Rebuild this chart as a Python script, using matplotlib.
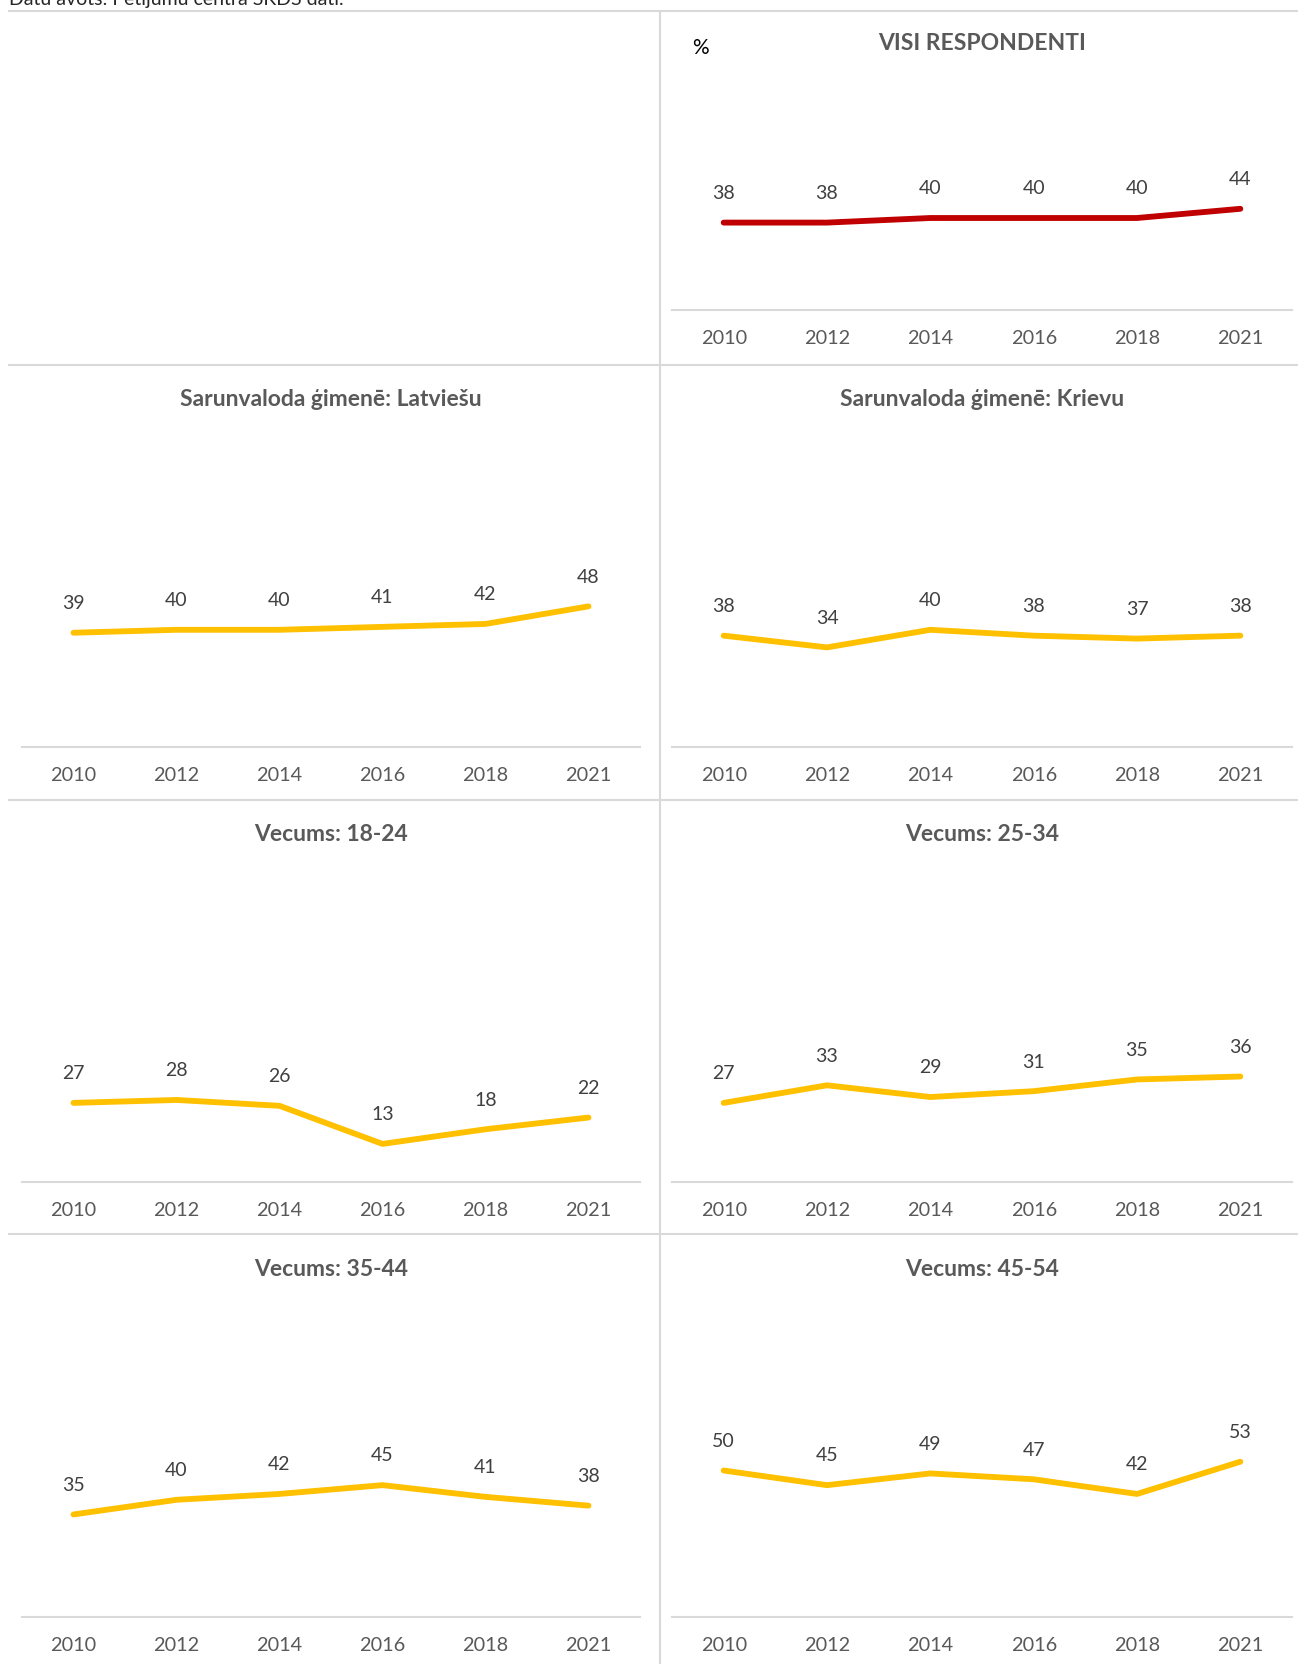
import matplotlib
matplotlib.use('Agg')
import matplotlib.pyplot as plt
from matplotlib.lines import Line2D

plt.rcParams['font.family'] = ['Lato', 'DejaVu Sans']

years = ['2010', '2012', '2014', '2016', '2018', '2021']

visi = [38, 38, 40, 40, 40, 44]
latviesu = [39, 40, 40, 41, 42, 48]
krievu = [38, 34, 40, 38, 37, 38]
v18_24 = [27, 28, 26, 13, 18, 22]
v25_34 = [27, 33, 29, 31, 35, 36]
v35_44 = [35, 40, 42, 45, 41, 38]
v45_54 = [50, 45, 49, 47, 42, 53]

titles = ['VISI RESPONDENTI',
          'Sarunvaloda ģimenē: Latviešu', 'Sarunvaloda ģimenē: Krievu',
          'Vecums: 18-24', 'Vecums: 25-34',
          'Vecums: 35-44', 'Vecums: 45-54']

W, H = 1298, 1664
fig = plt.figure(figsize=(W / 100, H / 100), dpi=100)

def fx(px):
    return px / W

def fy(py):
    return 1 - py / H

GRID = '#D9D9D9'
TITLE_C = '#595959'
LABEL_C = '#404040'
RED = '#C00000'
YEL = '#FFC000'

# columns (x0, x1) in pixels, rows: (baseline px, px per unit, title y)
cols = [(22, 640), (672, 1292)]
rows = [(310, 2.30, 44), (747, 2.93, 399), (1182, 2.93, 834), (1617, 2.93, 1269)]

panels = [
    (0, 1, visi, RED, titles[0]),
    (1, 0, latviesu, YEL, titles[1]),
    (1, 1, krievu, YEL, titles[2]),
    (2, 0, v18_24, YEL, titles[3]),
    (2, 1, v25_34, YEL, titles[4]),
    (3, 0, v35_44, YEL, titles[5]),
    (3, 1, v45_54, YEL, titles[6]),
]

YMAX = 100
for r, c, vals, color, title in panels:
    x0, x1 = cols[c]
    base, pxu, ty = rows[r]
    h = YMAX * pxu
    ax = fig.add_axes([fx(x0), fy(base), fx(x1 - x0), h / H])
    xs = list(range(len(years)))
    ax.plot(xs, vals, color=color, lw=4.2, solid_capstyle='round',
            solid_joinstyle='round')
    for x, v in zip(xs, vals):
        ax.annotate(str(v), (x, v), xytext=(0, 21), textcoords='offset points',
                    ha='center', va='center', fontsize=14, color=LABEL_C)
    ax.set_xlim(-0.5, 5.5)
    ax.set_ylim(0, YMAX)
    ax.set_xticks(xs)
    ax.set_xticklabels(years, fontsize=14.3, color=TITLE_C)
    ax.set_yticks([])
    ax.tick_params(axis='x', length=0, pad=14.5)
    for s in ['top', 'left', 'right']:
        ax.spines[s].set_visible(False)
    ax.spines['bottom'].set_color(GRID)
    ax.spines['bottom'].set_linewidth(1.5)
    ax.patch.set_visible(False)
    fig.text(fx((x0 + x1) / 2), fy(ty), title, ha='center', va='center',
             fontsize=16.5, fontweight='bold', color=TITLE_C)

# percent sign in the first chart
fig.text(fx(700), fy(48), '%', ha='center', va='center', fontsize=15, color='black')

# panel dividers
for y in [11, 365, 799.5, 1234]:
    fig.add_artist(Line2D([fx(9), fx(1298)], [fy(y), fy(y)], color=GRID, lw=1.5))
fig.add_artist(Line2D([fx(659.5), fx(659.5)], [fy(11), fy(1664)], color=GRID, lw=1.5))

# source note, cut off at the top edge as in the original
fig.text(fx(9), fy(4.5), 'Datu avots: Pētījumu centra SKDS dati.', ha='left',
         va='baseline', fontsize=14, color='#262626')

fig.savefig('out.png', dpi=100)
